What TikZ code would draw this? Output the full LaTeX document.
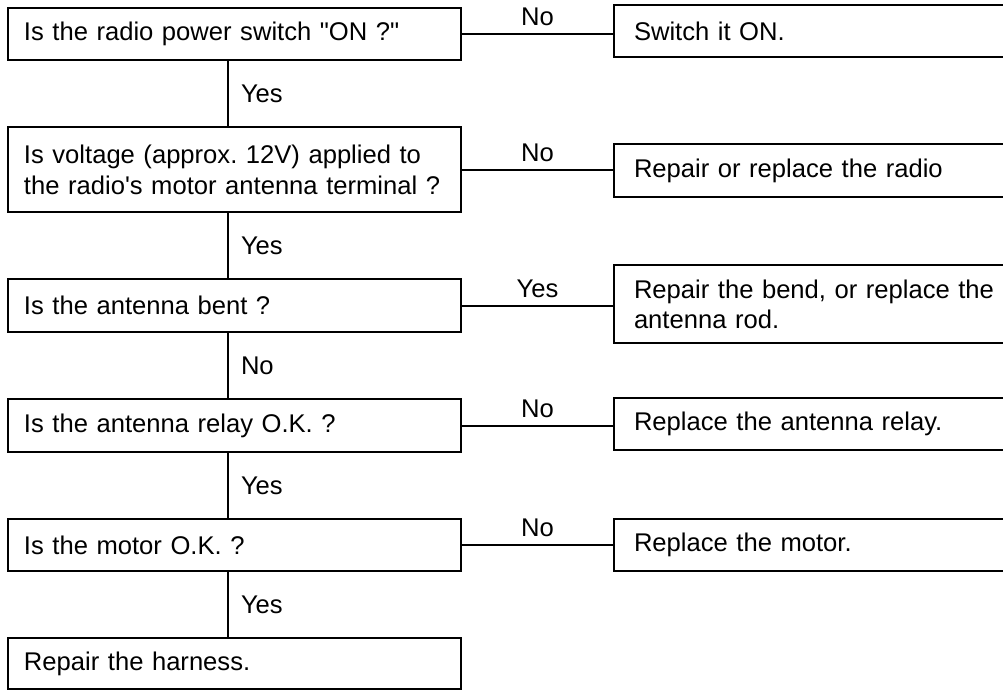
\documentclass[tikz,border=0pt]{standalone}
\usepackage{fontspec}
\setmainfont{Liberation Sans}[Ligatures=TeXOff]
\usetikzlibrary{positioning}
\frenchspacing

\begin{document}
\begin{tikzpicture}[x=0.5pt,y=-0.5pt,
	    askbox/.style= {
	        draw, line width=1.3pt, align=left,
	        font=\fontsize{12.8}{15.5}\selectfont,
	        inner xsep=8pt, text width=210.5pt, minimum width=226.5pt},
	    fixbox/.style= {
	        draw, line width=1.3pt, align=left,
	        font=\fontsize{12.8}{15}\selectfont,
	        inner xsep=10pt, text width=183pt, minimum width=203pt},
	    answer/.style= {inner sep=0pt, font=\fontsize{12.8}{15}\selectfont}]

		\useasboundingbox (0,0) rectangle (1003,692);
		\clip (0,0) rectangle (1003,692);

		% Questions
		\node [askbox,minimum height=26pt] (q1) at (234.5,34) {Is the radio power switch "ON ?"};
		\node [askbox,minimum height=42.5pt] (q2) at (234.5,169.5) {Is voltage (approx. 12V) applied to\\the radio's motor antenna terminal ?};
		\node [askbox,minimum height=26.5pt] (q3) at (234.5,305.5) {Is the antenna bent ?};
		\node [askbox,minimum height=26.5pt] (q4) at (234.5,425.5) {Is the antenna relay O.K. ?};
		\node [askbox,minimum height=26pt] (q5) at (234.5,545) {Is the motor O.K. ?};
		\node [askbox,minimum height=25.5pt] (q6) at (234.5,663.5) {Repair the harness.};

		% Remedies
		\node [fixbox,minimum height=26pt] (a1) at (817,31) {Switch it ON.};
		\node [fixbox,minimum height=26.5pt] (a2) at (817,170.5) {Repair or replace the radio};
		\node [fixbox,minimum height=39pt] (a3) at (817,304) {Repair the bend, or replace the\\antenna rod.};
		\node [fixbox,minimum height=26pt] (a4) at (817,424) {Replace the antenna relay.};
		\node [fixbox,minimum height=26pt] (a5) at (817,545) {Replace the motor.};

		% Lines
		\coordinate (spine) at (228,0);
		\draw[line width=1pt]
		    (q1.south -| spine) -- node[answer,right=6pt] {Yes} (q2.north -| spine)
		    (q2.south -| spine) -- node[answer,right=6pt] {Yes} (q3.north -| spine)
		    (q3.south -| spine) -- node[answer,right=6pt] {No} (q4.north -| spine)
		    (q4.south -| spine) -- node[answer,right=6pt] {Yes} (q5.north -| spine)
		    (q5.south -| spine) -- node[answer,right=6pt] {Yes} (q6.north -| spine);
		\draw[line width=1pt]
		    (q1.east) -- node[answer,above=3.5pt] {No} (q1.east -| a1.west)
		    (q2.east) -- node[answer,above=3.5pt] {No} (q2.east -| a2.west)
		    (q3.east) -- node[answer,above=3.5pt] {Yes} (q3.east -| a3.west)
		    (q4.east) -- node[answer,above=3.5pt] {No} (q4.east -| a4.west)
		    (q5.east) -- node[answer,above=3.5pt] {No} (q5.east -| a5.west);

	\end{tikzpicture}
\end{document}
